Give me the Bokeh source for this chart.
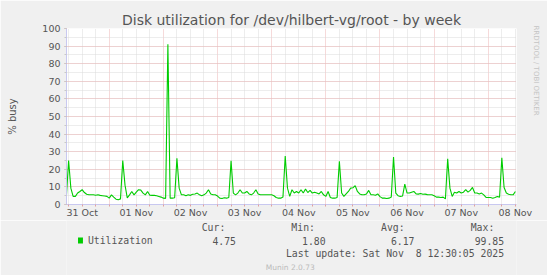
import datetime as dt
from bokeh.plotting import figure
from bokeh.layouts import column
from bokeh.models import (FixedTicker, SingleIntervalTicker, DatetimeTickFormatter,
                          Range1d, ColumnDataSource, Title)
from bokeh.core.properties import value
from bokeh.embed import file_html
from bokeh.resources import INLINE

# ---------------- data (hourly averages, % busy) ----------------
start_time = dt.datetime(2025, 10, 31, 5, 0)
oct31 = [4.2, 25.0, 9.3, 4.6, 4.6, 6.5, 7.4, 8.4, 6.8, 5.8, 5.5, 5.5, 5.5, 5.3, 5.5, 5.2, 5.0, 4.8, 4.6]  # 05..23
nov01 = [3.6, 5.5, 4.2, 3.0, 2.7, 3.2, 25.0, 11.0, 3.8, 5.5, 7.4, 5.5, 7.0, 8.4, 8.2, 6.5,
         5.5, 7.4, 5.3, 5.2, 5.2, 5.0, 4.6, 4.2]
nov02 = [3.6, 3.5, 91.0, 3.6, 3.6, 3.8, 26.3, 9.3, 5.5, 5.5, 5.0, 5.5, 5.2, 5.8, 6.0, 6.5,
         5.5, 5.0, 5.5, 6.5, 8.4, 6.0, 5.5, 5.5]
nov03 = [4.8, 3.6, 3.4, 3.8, 3.6, 4.0, 24.8, 6.5, 5.5, 6.5, 8.4, 6.5, 6.5, 7.4, 6.0, 5.5,
         6.5, 8.4, 6.0, 5.5, 5.5, 5.5, 5.5, 5.5]
nov04 = [5.5, 5.0, 4.0, 3.6, 3.6, 4.2, 27.6, 9.3, 4.6, 8.4, 6.5, 7.4, 6.5, 8.4, 6.5, 8.8,
         6.8, 8.0, 6.5, 7.0, 6.5, 6.0, 7.4, 5.5]
nov05 = [4.6, 7.4, 4.0, 3.6, 3.6, 4.0, 24.6, 6.5, 4.6, 6.0, 7.4, 9.3, 9.5, 10.7, 7.4, 6.0,
         5.5, 5.5, 6.0, 8.0, 5.5, 5.5, 5.3, 6.0]
nov06 = [4.5, 3.6, 3.6, 3.4, 3.6, 4.2, 27.0, 6.5, 5.0, 4.6, 4.8, 11.6, 6.5, 6.5, 7.0, 7.4,
         6.0, 5.9, 6.2, 5.8, 5.9, 5.6, 5.5, 5.5]
nov07 = [5.0, 4.2, 4.2, 4.0, 4.2, 3.2, 26.0, 9.3, 4.6, 7.0, 6.5, 7.4, 6.5, 7.0, 8.4, 7.0,
         8.0, 9.7, 6.5, 6.5, 6.0, 6.5, 5.5, 4.0]
nov08 = [4.0, 4.0, 3.6, 4.0, 4.5, 4.2, 26.5, 9.7, 6.5, 5.8, 5.5, 5.5, 7.4]  # 00..12

day_labels = ["31 Oct", "01 Nov", "02 Nov", "03 Nov", "04 Nov", "05 Nov", "06 Nov", "07 Nov", "08 Nov"]
stat_names = ["Cur:", "Min:", "Avg:", "Max:"]
stat_values = ["4.75", "1.80", "6.17", "99.85"]
series_name = "Utilization"
title_text = "Disk utilization for /dev/hilbert-vg/root - by week"
y_label = "% busy"
watermark = "RRDTOOL / TOBI OETIKER"
last_update = "Last update: Sat Nov \u00a08 12:30:05 2025"
version_text = "Munin 2.0.73"

values = oct31 + nov01 + nov02 + nov03 + nov04 + nov05 + nov06 + nov07 + nov08
times = [start_time + dt.timedelta(hours=i) for i in range(len(values))]

EPOCH = dt.datetime(1970, 1, 1)
def ms(d):
    return (d - EPOCH).total_seconds() * 1000.0

x_start = dt.datetime(2025, 10, 31, 5, 4)
x_end = dt.datetime(2025, 11, 8, 12, 30)

midnights = [ms(dt.datetime(2025, 11, 1) + dt.timedelta(days=i)) for i in range(8)]
noons = [ms(dt.datetime(2025, 10, 31, 12) + dt.timedelta(days=i)) for i in range(9)]
six_hours = [ms(dt.datetime(2025, 10, 31, 6) + dt.timedelta(hours=6 * i)) for i in range(34)]
six_minor = [t for t in six_hours if t not in midnights]

BG = "#F0F0F0"
TXT = "#555555"
W = 547
H1 = 220
H2 = 275 - H1

p = figure(width=W, height=H1, x_axis_type="datetime", output_backend="svg",
           toolbar_location=None, tools="",
           x_range=Range1d(x_start, x_end), y_range=Range1d(0, 100),
           min_border_left=66, min_border_right=31, min_border_top=28, min_border_bottom=14)
p.border_fill_color = BG
p.background_fill_color = "#FFFFFF"
p.outline_line_color = None

p.title.text = title_text
p.title.align = "center"
p.title.text_font = "DejaVu Sans"
p.title.text_font_size = "14px"
p.title.text_font_style = "normal"
p.title.text_color = TXT
p.title.standoff = 1

# spacer panel between the frame and the vertical watermark
p.add_layout(Title(text="\u00a0", text_font="DejaVu Sans", text_font_size="8px",
                   text_color=BG, standoff=4), "right")
p.add_layout(Title(text=watermark, text_font="DejaVu Sans", text_font_size="7px",
                   text_font_style="normal", text_color="#C4C4C4", align="left",
                   offset=-3, standoff=0), "right")

src = ColumnDataSource(dict(t=times, v=values))
p.line("t", "v", source=src, line_color="#00CC00", line_width=1.1)

# grids
p.ygrid.ticker = SingleIntervalTicker(interval=10, num_minor_ticks=2)
p.ygrid.grid_line_color = "#EDB4B4"
p.ygrid.grid_line_dash = "1 1"
p.ygrid.minor_grid_line_color = "#DADADA"
p.ygrid.minor_grid_line_dash = "1 1"
p.xgrid.ticker = FixedTicker(ticks=midnights, minor_ticks=six_minor)
p.xgrid.grid_line_color = "#EDB4B4"
p.xgrid.grid_line_dash = "1 1"
p.xgrid.minor_grid_line_color = "#DADADA"
p.xgrid.minor_grid_line_dash = "1 1"

# axes
ax = p.xaxis[0]
ax.ticker = FixedTicker(ticks=noons, minor_ticks=six_hours)
fmt = "%d %b"
ax.formatter = DatetimeTickFormatter(milliseconds=fmt, seconds=fmt, minsec=fmt, minutes=fmt,
                                     hourmin=fmt, hours=fmt, days=fmt, months=fmt, years=fmt)
ax.major_tick_line_color = None
ax.major_tick_out = 0
ax.major_tick_in = 0
ax.minor_tick_line_color = "#E0A0A0"
ax.minor_tick_out = 2
ax.minor_tick_in = 0
ax.axis_line_color = "#C8C8F0"
ax.major_label_text_font = "DejaVu Sans"
ax.major_label_text_font_size = "9.5px"
ax.major_label_text_color = TXT
ax.major_label_standoff = 0

ay = p.yaxis[0]
ay.ticker = SingleIntervalTicker(interval=10, num_minor_ticks=2)
ay.axis_line_color = "#C8C8F0"
ay.major_tick_line_color = "#E0A0A0"
ay.major_tick_out = 2
ay.major_tick_in = 0
ay.minor_tick_line_color = "#C8C8C8"
ay.minor_tick_out = 2
ay.minor_tick_in = 0
ay.major_label_text_font = "DejaVu Sans"
ay.major_label_text_font_size = "9.5px"
ay.major_label_text_color = TXT
ay.major_label_standoff = 4
ay.axis_label = y_label
ay.axis_label_text_font = "DejaVu Sans"
ay.axis_label_text_font_size = "10px"
ay.axis_label_text_font_style = "normal"
ay.axis_label_text_color = TXT
ay.axis_label_standoff = 21

# ---------------- legend area (second figure, canvas-like coordinates) ----------------
q = figure(width=W, height=H2, output_backend="svg", toolbar_location=None, tools="",
           x_range=Range1d(0, W), y_range=Range1d(275, H1),
           x_axis_location=None, y_axis_location=None,
           min_border=0, min_border_left=0, min_border_right=0, min_border_top=0, min_border_bottom=0)
q.border_fill_color = BG
q.background_fill_color = BG
q.outline_line_color = None
q.xgrid.visible = False
q.ygrid.visible = False

mono = value("DejaVu Sans Mono")
name_x = [193, 302, 411, 520]
val_x = [206, 315, 423, 532]
q.text(x=name_x, y=[227] * 4, text=stat_names, text_font=mono, text_font_size="9.8px",
       text_color=TXT, text_align="right", text_baseline="middle")
q.text(x=val_x, y=[240] * 4, text=stat_values, text_font=mono, text_font_size="9.8px",
       text_color=TXT, text_align="right", text_baseline="middle")
q.text(x=[26], y=[240], text=[series_name], text_font=mono, text_font_size="9.8px",
       text_color=TXT, text_align="left", text_baseline="middle")
q.text(x=[532], y=[253], text=[last_update], text_font=mono, text_font_size="9.8px",
       text_color=TXT, text_align="right", text_baseline="middle")
q.text(x=[272], y=[267], text=[version_text], text_font=value("DejaVu Sans"), text_font_size="7.5px",
       text_color="#BBBBBB", text_align="center", text_baseline="middle")
q.rect(x=[17], y=[240], width=6, height=6, fill_color="#00CC00", line_color=None)

layout = column(p, q, spacing=0)
open("out.html", "w").write(file_html(layout, INLINE))
